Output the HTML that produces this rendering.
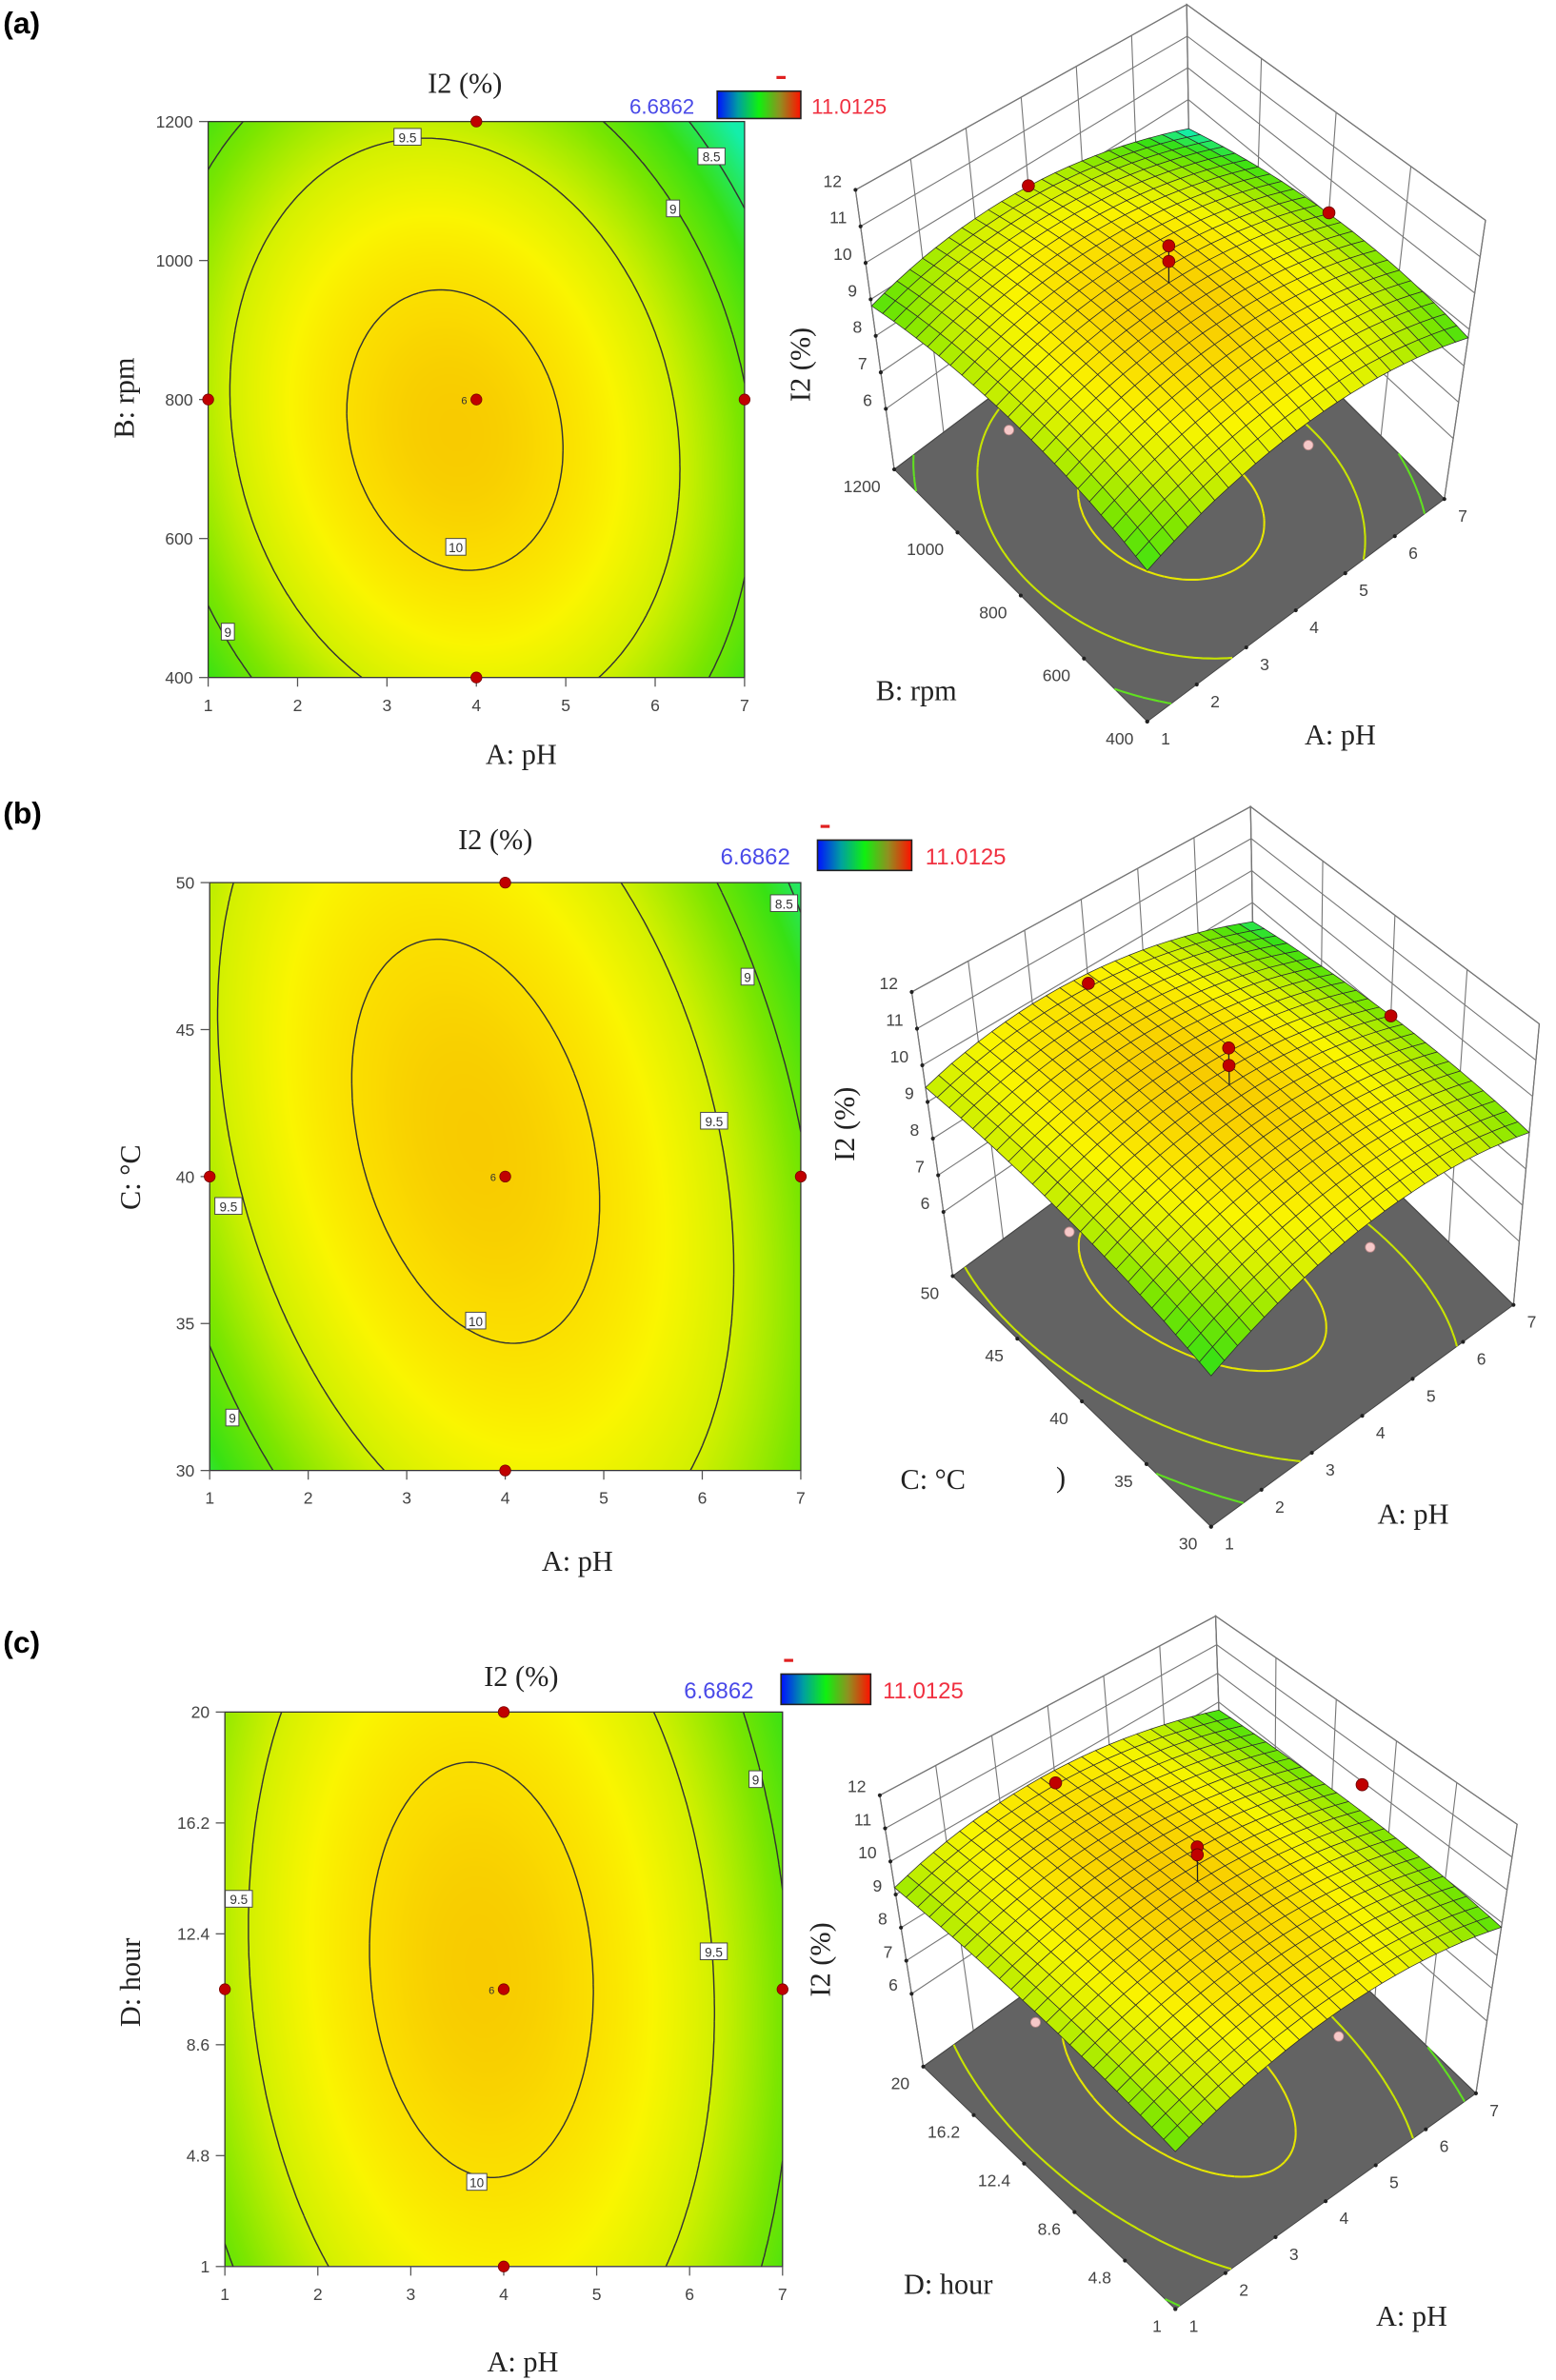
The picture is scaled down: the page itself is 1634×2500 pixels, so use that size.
<!DOCTYPE html>
<html><head><meta charset="utf-8">
<style>
html,body{margin:0;padding:0;background:#fff}
#wrap{position:relative;width:1634px;height:2500px;overflow:hidden;background:#fff}
canvas{position:absolute}
#fig{position:absolute;left:0;top:0}
.tk{font-family:"Liberation Sans",sans-serif;font-size:11px;fill:#444}
.ttl{font-family:"Liberation Serif",serif;font-size:19px;fill:#222}
.pl{font-family:"Liberation Sans",sans-serif;font-size:20px;font-weight:bold;fill:#000}
</style></head>
<body>
<div id="wrap">
<canvas id="cvA"></canvas>
<canvas id="cvB"></canvas>
<canvas id="cvC"></canvas>
<svg id="fig" width="1634" height="2500" viewBox="0 0 1024 1566.7" xmlns="http://www.w3.org/2000/svg">
<defs>
<linearGradient id="cbar" x1="0" x2="1" y1="0" y2="0">
<stop offset="0" stop-color="#0010ff"/><stop offset="0.25" stop-color="#00a0a0"/><stop offset="0.5" stop-color="#10f010"/><stop offset="0.75" stop-color="#909020"/><stop offset="1" stop-color="#ff1000"/>
</linearGradient>
</defs>
<text class="pl" x="2" y="22">(a)</text>
<text class="pl" x="2" y="542">(b)</text>
<text class="pl" x="2" y="1088">(c)</text>

<text class="ttl" x="306" y="61" text-anchor="middle">I2 (%)</text>
<text x="457" y="75" text-anchor="end" font-family="Liberation Sans,sans-serif" font-size="14" fill="#4a4ae8">6.6862</text>
<rect x="472" y="60" width="55" height="18" fill="url(#cbar)" stroke="#222" stroke-width="1"/>
<rect x="511" y="50" width="6" height="2" fill="#e02020"/>
<text x="534" y="75" font-family="Liberation Sans,sans-serif" font-size="14" fill="#f03040">11.0125</text>
<text class="ttl" x="343" y="503" text-anchor="middle">A: pH</text>
<text class="ttl" transform="translate(88,262) rotate(-90)" text-anchor="middle">B: rpm</text>

<text class="ttl" x="326" y="559" text-anchor="middle">I2 (%)</text>
<text x="520" y="569" text-anchor="end" font-family="Liberation Sans,sans-serif" font-size="15" fill="#4a4ae8">6.6862</text>
<rect x="538" y="553" width="62" height="20" fill="url(#cbar)" stroke="#222" stroke-width="1"/>
<rect x="540" y="543" width="6" height="2" fill="#e02020"/>
<text x="609" y="569" font-family="Liberation Sans,sans-serif" font-size="15" fill="#f03040">11.0125</text>
<text class="ttl" x="380" y="1034" text-anchor="middle">A: pH</text>
<text class="ttl" transform="translate(92,775) rotate(-90)" text-anchor="middle">C: °C</text>

<text class="ttl" x="343" y="1110" text-anchor="middle">I2 (%)</text>
<text x="496" y="1118" text-anchor="end" font-family="Liberation Sans,sans-serif" font-size="15" fill="#4a4ae8">6.6862</text>
<rect x="514" y="1102" width="59" height="20" fill="url(#cbar)" stroke="#222" stroke-width="1"/>
<rect x="516" y="1092" width="6" height="2" fill="#e02020"/>
<text x="581" y="1118" font-family="Liberation Sans,sans-serif" font-size="15" fill="#f03040">11.0125</text>
<text class="ttl" x="344" y="1561" text-anchor="middle">A: pH</text>
<text class="ttl" transform="translate(92,1305) rotate(-90)" text-anchor="middle">D: hour</text>

<text class="ttl" transform="translate(533,240) rotate(-90)" text-anchor="middle">I2 (%)</text>
<text class="ttl" x="603" y="461" text-anchor="middle">B: rpm</text>
<text class="ttl" x="882" y="490" text-anchor="middle">A: pH</text>
<text class="ttl" transform="translate(562,740) rotate(-90)" text-anchor="middle">I2 (%)</text>
<text class="ttl" x="614" y="980" text-anchor="middle">C: °C</text>
<text class="ttl" x="695" y="979" font-size="13">)</text>
<text class="ttl" x="930" y="1003" text-anchor="middle">A: pH</text>
<text class="ttl" transform="translate(546,1290) rotate(-90)" text-anchor="middle">I2 (%)</text>
<text class="ttl" x="624" y="1510" text-anchor="middle">D: hour</text>
<text class="ttl" x="929" y="1531" text-anchor="middle">A: pH</text>
</svg>
</div>
<script>
// ---- data ----
const pHTicks=[1,2,3,4,5,6,7];
const rpmTicks=[400,600,800,1000,1200];
const tempTicks=[30,35,40,45,50];
const hourTicks=[1,4.8,8.6,12.4,16.2,20];
const zTicks=[6,7,8,9,10,11,12];
const contourLevels=[8.5,9,9.5,10];
// quadratic model: [max, a, b, c, uCenter, vCenter] in coded units
const modelA=[10.15,0.94,0.6,0.2,-0.08,-0.11];
const modelB=[10.15,0.94,0.35,0.35,-0.1,0.12];
const modelC=[10.15,0.94,0.27,0.1,-0.08,0.07];
const designPH=[4,4,1,7,4];
const designRpm=[400,1200,800,800,800];
const designTemp=[30,50,40,40,40];
const designHour=[1,20,10.5,10.5,10.5];
const labPH_A=[3.23,6.63,6.2,3.77,1.22];
const labY_A=[1178,1150,1075,588,466];
const labT_A=['9.5','8.5','9','10','9'];
const labPH_B=[6.83,6.46,6.12,1.19,3.7,1.23];
const labY_B=[49.3,46.8,41.9,39.0,35.1,31.8];
const labT_B=['8.5','9','9.5','9.5','10','9'];
const labPH_C=[6.71,1.15,6.26,3.71];
const labY_C=[17.7,13.6,11.8,3.9];
const labT_C=['9','9.5','9.5','10'];
const redPH=[4,7,4,4];
const redRpm=[1200,800,800,800];
const redZA=[9.4,9.05,11.2,10.75];
const redTemp=[50,40,40,40];
const redZB=[9.55,9.05,11.2,10.7];
const redHour=[20,10.5,10.5,10.5];
const redZC=[9.5,9.9,11.25,11.0];
const pinkPH=[1,4];
const pinkRpm=[800,400];
const pinkTemp=[40,30];
const pinkHour=[10.5,1];
const pinkZ=[9.0,9.0];

// ---- helpers ----
const S=1634/1024, NS='http://www.w3.org/2000/svg';
const svg=document.getElementById('fig');
function mk(tag,attrs,parent){const e=document.createElementNS(NS,tag);for(const k in attrs)e.setAttribute(k,attrs[k]);(parent||svg).appendChild(e);return e;}
function fval(m,u,v){const du=u-m[4],dv=v-m[5];return m[0]-m[1]*du*du-m[2]*dv*dv-m[3]*du*dv;}
const cstops=[[8.2,[20,238,170]],[8.7,[55,225,20]],[9.1,[125,230,0]],[9.5,[210,240,0]],[9.8,[250,245,0]],[10.05,[250,218,0]],[10.25,[245,188,0]]];
function cm(z){if(z<=cstops[0][0])return cstops[0][1];for(let i=1;i<cstops.length;i++){if(z<=cstops[i][0]){const a=cstops[i-1],b=cstops[i],t=(z-a[0])/(b[0]-a[0]);return a[1].map((c,k)=>Math.round(c+(b[1][k]-c)*t));}}return cstops[cstops.length-1][1];}
function rgb(c){return 'rgb('+c[0]+','+c[1]+','+c[2]+')';}
function march(m,level,N){const segs=[];const g=[];for(let i=0;i<=N;i++){g.push([]);for(let j=0;j<=N;j++)g[i].push(fval(m,-1+2*i/N,-1+2*j/N)-level);}
 for(let i=0;i<N;i++)for(let j=0;j<N;j++){const u0=-1+2*i/N,u1=-1+2*(i+1)/N,v0=-1+2*j/N,v1=-1+2*(j+1)/N;
  const a=g[i][j],b=g[i+1][j],c=g[i+1][j+1],d=g[i][j+1];const p=[];
  if((a>0)!=(b>0)){const t=a/(a-b);p.push([u0+t*(u1-u0),v0]);}
  if((b>0)!=(c>0)){const t=b/(b-c);p.push([u1,v0+t*(v1-v0)]);}
  if((c>0)!=(d>0)){const t=c/(c-d);p.push([u1-t*(u1-u0),v1]);}
  if((d>0)!=(a>0)){const t=d/(d-a);p.push([u0,v1-t*(v1-v0)]);}
  if(p.length>=2)segs.push([p[0],p[1]]);if(p.length==4)segs.push([p[2],p[3]]);}
 return segs;}

// ---- 2D contour panels ----
const panels2d=[
 {id:'a',cv:'cvA',x0:137,x1:490,y0:80,y1:446,m:modelA,yt:rpmTicks,dy:designRpm,lx:labPH_A,ly:labY_A,lt:labT_A},
 {id:'b',cv:'cvB',x0:138,x1:527,y0:581,y1:968,m:modelB,yt:tempTicks,dy:designTemp,lx:labPH_B,ly:labY_B,lt:labT_B},
 {id:'c',cv:'cvC',x0:148,x1:515,y0:1127,y1:1492,m:modelC,yt:hourTicks,dy:designHour,lx:labPH_C,ly:labY_C,lt:labT_C}];
panels2d.forEach(P=>{
 const ymin=P.yt[0],ymax=P.yt[P.yt.length-1];
 const X=a=>P.x0+(a-1)/6*(P.x1-P.x0);
 const Y=b=>P.y1-(b-ymin)/(ymax-ymin)*(P.y1-P.y0);
 const cv=document.getElementById(P.cv);
 const W=Math.round((P.x1-P.x0)*S),H=Math.round((P.y1-P.y0)*S);
 cv.width=W;cv.height=H;cv.style.left=(P.x0*S)+'px';cv.style.top=(P.y0*S)+'px';
 const ctx=cv.getContext('2d');const img=ctx.createImageData(W,H);
 for(let py=0;py<H;py++)for(let px=0;px<W;px++){const u=-1+2*(px+.5)/W,v=1-2*(py+.5)/H;const c=cm(fval(P.m,u,v));const k=(py*W+px)*4;img.data[k]=c[0];img.data[k+1]=c[1];img.data[k+2]=c[2];img.data[k+3]=255;}
 ctx.putImageData(img,0,0);
 const gr=mk('g',{});
 
 
 const cp=mk('clipPath',{id:'clip'+P.id},gr);mk('rect',{x:P.x0,y:P.y0,width:P.x1-P.x0,height:P.y1-P.y0},cp);
 contourLevels.forEach(L=>{const segs=march(P.m,L,120);let d='';
  segs.forEach(s=>{const mx=u=>P.x0+(u+1)/2*(P.x1-P.x0),my=v=>P.y1-(v+1)/2*(P.y1-P.y0);d+='M'+mx(s[0][0]).toFixed(1)+','+my(s[0][1]).toFixed(1)+'L'+mx(s[1][0]).toFixed(1)+','+my(s[1][1]).toFixed(1);});
  const pth=mk('path',{d:d,fill:'none',stroke:'#333','stroke-width':0.9,'clip-path':'url(#clip'+P.id+')'},gr);
  
  });
 const fr=mk('rect',{x:P.x0,y:P.y0,width:P.x1-P.x0,height:P.y1-P.y0,fill:'none',stroke:'#333','stroke-width':0.8},gr);
 
 
 pHTicks.forEach(t=>{const x=X(t);mk('line',{x1:x,x2:x,y1:P.y1,y2:P.y1+6,stroke:'#555','stroke-width':0.8},gr);
  const tx=mk('text',{x:x,y:P.y1+22,'text-anchor':'middle',class:'tk'},gr);tx.textContent=t;
  
  });
 P.yt.forEach(t=>{const y=Y(t);mk('line',{x1:P.x0-6,x2:P.x0,y1:y,y2:y,stroke:'#555','stroke-width':0.8},gr);
  const tx=mk('text',{x:P.x0-10,y:y+4,'text-anchor':'end',class:'tk'},gr);tx.textContent=t;
  
  });
 P.lx.forEach((a,i)=>{const x=X(a),y=Y(P.ly[i]);const w=P.lt[i].length*4.6+4;
  const r=mk('rect',{x:x-w/2,y:y-5.5,width:w,height:11,fill:'#fff',stroke:'#444','stroke-width':0.6},gr);
  
  
  const tx=mk('text',{x:x,y:y+3.5,'text-anchor':'middle','font-family':'Liberation Sans,sans-serif','font-size':8.5,fill:'#333'},gr);tx.textContent=P.lt[i];
  
  });
 designPH.forEach((a,i)=>{const c=mk('circle',{cx:X(a),cy:Y(P.dy[i]),r:3.6,fill:'#c00000',stroke:'#700','stroke-width':0.5},gr);
  
  });
 const six=mk('text',{x:X(4)-8,y:Y(P.dy[4])+3,'text-anchor':'middle','font-family':'Liberation Sans,sans-serif','font-size':7,fill:'#333'},gr);six.textContent='6';
 
 
});

// ---- 3D surface panels ----
const panels3d=[
 {id:'a',m:modelA,zmin:4.34,F:[755,475],L:[588.5,309],R:[950.5,328.5],K:[783.5,162.5],Ft:[755,301],Lt:[563,125],Rt:[977.6,145],Kt:[781,3],yt:rpmTicks,rx:redPH,ry:redRpm,rz:redZA,px:pinkPH,py:pinkRpm},
 {id:'b',m:modelB,zmin:4.25,F:[797,1005],L:[627,840],R:[996,859],K:[826,694],Ft:[797,828],Lt:[600,653],Rt:[1013,674],Kt:[823,531],yt:tempTicks,rx:redPH,ry:redTemp,rz:redZB,px:pinkPH,py:pinkTemp},
 {id:'c',m:modelC,zmin:3.8,F:[773.5,1520],L:[607.6,1360.4],R:[971.3,1378],K:[805.4,1218.5],Ft:[773.5,1355],Lt:[579,1181.8],Rt:[998.4,1200.9],Kt:[800,1063.8],yt:hourTicks,rx:redPH,ry:redHour,rz:redZC,px:pinkPH,py:pinkHour}];
const floorCol={8.5:'#30d030',9:'#60e020',9.5:'#c8e400',10:'#e6e600'};
panels3d.forEach(P=>{
 const ymin=P.yt[0],ymax=P.yt[P.yt.length-1];
 const bil=(F,L,R,K,u,v,k)=>(1-u)*(1-v)*F[k]+(1-u)*v*L[k]+u*(1-v)*R[k]+u*v*K[k];
 const pr=(u,v,z)=>{const w=(z-P.zmin)/(12-P.zmin);const out=[];for(let k=0;k<2;k++){const b=bil(P.F,P.L,P.R,P.K,u,v,k),t=bil(P.Ft,P.Lt,P.Rt,P.Kt,u,v,k);out.push(b+w*(t-b));}return out;};
 const pt=p=>p[0].toFixed(1)+','+p[1].toFixed(1);
 const uA=a=>(a-1)/6, vB=b=>(b-ymin)/(ymax-ymin);
 const gr=mk('g',{});
 
 
 const wl=mk('polygon',{points:[pr(0,1,P.zmin),pr(1,1,P.zmin),pr(1,1,12),pr(0,1,12)].map(pt).join(' '),fill:'#fff',stroke:'#666','stroke-width':0.8},gr);
 
 
 const wr=mk('polygon',{points:[pr(1,0,P.zmin),pr(1,1,P.zmin),pr(1,1,12),pr(1,0,12)].map(pt).join(' '),fill:'#fff',stroke:'#666','stroke-width':0.8},gr);
 
 
 let gd='';
 pHTicks.forEach(t=>{gd+='M'+pt(pr(uA(t),1,P.zmin))+'L'+pt(pr(uA(t),1,12));});
 P.yt.forEach(t=>{gd+='M'+pt(pr(1,vB(t),P.zmin))+'L'+pt(pr(1,vB(t),12));});
 zTicks.forEach(z=>{gd+='M'+pt(pr(0,1,z))+'L'+pt(pr(1,1,z))+'L'+pt(pr(1,0,z));});
 const grid=mk('path',{d:gd,fill:'none',stroke:'#777','stroke-width':0.7},gr);
 
 
 const fl=mk('polygon',{points:[pr(0,0,P.zmin),pr(0,1,P.zmin),pr(1,1,P.zmin),pr(1,0,P.zmin)].map(pt).join(' '),fill:'#636363',stroke:'#444','stroke-width':0.6},gr);
 
 
 contourLevels.forEach(L=>{const segs=march(P.m,L,80);let d='';
  segs.forEach(s=>{d+='M'+pt(pr((s[0][0]+1)/2,(s[0][1]+1)/2,P.zmin))+'L'+pt(pr((s[1][0]+1)/2,(s[1][1]+1)/2,P.zmin));});
  const p=mk('path',{d:d,fill:'none',stroke:floorCol[L],'stroke-width':1.3},gr);
  
  });
 zTicks.forEach(z=>{const p=pr(0,1,z);mk('circle',{cx:p[0],cy:p[1],r:1.3,fill:'#222'},gr);
  const tx=mk('text',{x:p[0]-9,y:p[1]-2,'text-anchor':'end',class:'tk','font-size':12},gr);tx.textContent=z;
  
  });
 pHTicks.forEach(t=>{const p=pr(uA(t),0,P.zmin);mk('circle',{cx:p[0],cy:p[1],r:1.3,fill:'#222'},gr);
  const tx=mk('text',{x:p[0]+9,y:p[1]+15,'text-anchor':'start',class:'tk','font-size':12},gr);tx.textContent=t;
  
  });
 P.yt.forEach(t=>{const p=pr(0,vB(t),P.zmin);mk('circle',{cx:p[0],cy:p[1],r:1.3,fill:'#222'},gr);
  const tx=mk('text',{x:p[0]-9,y:p[1]+15,'text-anchor':'end',class:'tk','font-size':12},gr);tx.textContent=t;
  
  });
 P.px.forEach((a,i)=>{const p=pr(uA(a),vB(P.py[i]),pinkZ[i]);const c=mk('circle',{cx:p[0],cy:p[1],r:3.2,fill:'#f6c8c8',stroke:'#b88','stroke-width':0.5},gr);
  
  });
 const N=24;const quads=[];
 for(let i=0;i<N;i++)for(let j=0;j<N;j++)quads.push([i,j]);
 quads.sort((a,b)=>(b[0]+b[1])-(a[0]+a[1]));
 const sg=mk('g',{},gr);
 
 
 quads.forEach(q=>{const [i,j]=q;const us=[i/N,(i+1)/N],vs=[j/N,(j+1)/N];
  const z=(u,v)=>fval(P.m,2*u-1,2*v-1);
  const pts=[pr(us[0],vs[0],z(us[0],vs[0])),pr(us[1],vs[0],z(us[1],vs[0])),pr(us[1],vs[1],z(us[1],vs[1])),pr(us[0],vs[1],z(us[0],vs[1]))];
  const c=cm(z((us[0]+us[1])/2,(vs[0]+vs[1])/2));
  mk('polygon',{points:pts.map(pt).join(' '),fill:rgb(c),stroke:'#2a2a2a','stroke-width':0.45},sg);});
 const cz=fval(P.m,0,0);const c0=pr(.5,.5,cz),c1=pr(.5,.5,P.rz[2]);
 mk('line',{x1:c0[0],y1:c0[1],x2:c1[0],y2:c1[1],stroke:'#222','stroke-width':0.8},gr);
 P.rx.forEach((a,i)=>{const p=pr(uA(a),vB(P.ry[i]),P.rz[i]);const c=mk('circle',{cx:p[0],cy:p[1],r:4,fill:'#c00000',stroke:'#600','stroke-width':0.5},gr);
  
  });
});
</script>
</body></html>
